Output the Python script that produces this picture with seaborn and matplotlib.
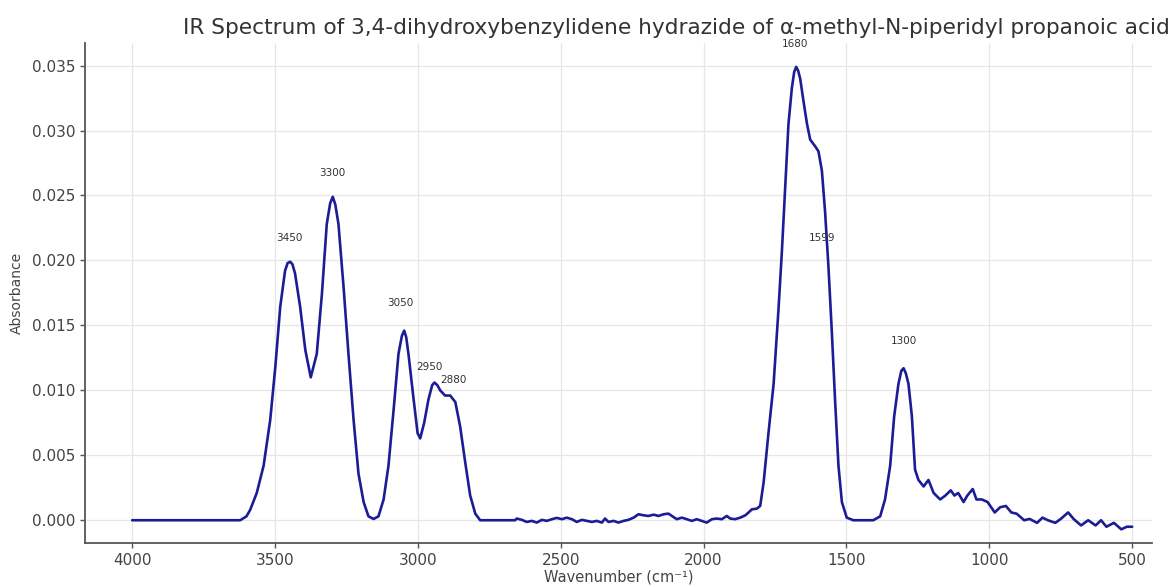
import matplotlib
matplotlib.use("Agg")
import matplotlib.pyplot as plt
import seaborn as sns
import pandas as pd

# --- O-H / N-H / C-H stretching region (cm^-1, absorbance) ---
wn_high = [4000, 3800, 3660, 3622, 3600, 3587, 3564, 3540, 3517, 3499, 3482,
           3465, 3456, 3447, 3439, 3430, 3412, 3394, 3375, 3354, 3336, 3319,
           3307, 3298, 3289, 3278, 3260, 3243, 3225, 3208, 3190, 3173, 3155,
           3138, 3120, 3103, 3085, 3068, 3056, 3048, 3041, 3033, 3015, 3001,
           2992, 2978, 2963, 2950, 2942, 2932, 2922, 2905, 2887, 2869, 2852,
           2834, 2817, 2799, 2782, 2700, 2660]
ab_high = [0.0, 0.0, 0.0, 0.0, 0.0003, 0.0008, 0.0021, 0.0042, 0.0077, 0.0118,
           0.0164, 0.0192, 0.0198, 0.0199, 0.0197, 0.0190, 0.0164, 0.0131,
           0.0110, 0.0128, 0.0174, 0.0228, 0.0244, 0.0249, 0.0243, 0.0228,
           0.0179, 0.0128, 0.0077, 0.0036, 0.0014, 0.0003, 0.0001, 0.0003,
           0.0016, 0.0042, 0.0085, 0.0128, 0.0142, 0.0146, 0.0141, 0.0128,
           0.0093, 0.0067, 0.0063, 0.0075, 0.0093, 0.0104, 0.0106, 0.0104,
           0.0100, 0.0096, 0.0096, 0.0091, 0.0072, 0.0044, 0.0019, 0.0005,
           0.0, 0.0, 0.0]

# --- noisy baseline between the stretching and carbonyl regions ---
wn_mid = [2654, 2636, 2619, 2601, 2584, 2566, 2549, 2531, 2514, 2496, 2479,
          2461, 2444, 2426, 2409, 2391, 2374, 2356, 2345, 2333, 2315, 2298,
          2280, 2263, 2245, 2228, 2210, 2193, 2175, 2158, 2140, 2123, 2111,
          2094, 2076, 2059, 2041, 2024, 2006, 1989, 1971, 1954, 1936, 1919,
          1907, 1890, 1872, 1854, 1843, 1831, 1814, 1802]
ab_mid = [0.00013, 0.00003, -0.00013, -0.00005, -0.00018, 0.00003, -0.00005,
          0.00008, 0.00018, 0.00008, 0.00020, 0.00008, -0.00013, 0.00003,
          -0.00005, -0.00013, -0.00005, -0.00018, 0.00013, -0.00013, -0.00005,
          -0.00018, -0.00005, 0.00003, 0.00020, 0.00046, 0.00038, 0.00033,
          0.00043, 0.00033, 0.00046, 0.00051, 0.00033, 0.00008, 0.00020,
          0.00008, -0.00005, 0.00008, -0.00005, -0.00018, 0.00008, 0.00013,
          0.00008, 0.00033, 0.00013, 0.00008, 0.00020, 0.00038, 0.00059,
          0.00084, 0.00089, 0.00110]

# --- carbonyl band and fingerprint region ---
wn_low = [1790, 1773, 1755, 1738, 1726, 1714, 1703, 1691, 1683, 1676, 1669,
          1662, 1650, 1638, 1627, 1610, 1598, 1586, 1575, 1563, 1551, 1540,
          1528, 1516, 1499, 1476, 1440, 1406, 1382, 1365, 1347, 1333, 1318,
          1308, 1300, 1292, 1283, 1271, 1260, 1248, 1230, 1213, 1195, 1172,
          1154, 1135, 1122, 1109, 1090, 1077, 1058, 1045, 1026, 1006, 981,
          962, 942, 923, 904, 878, 859, 833, 814, 795, 769, 750, 724, 705,
          679, 654, 628, 609, 590, 564, 538, 519, 500]
ab_low = [0.0029, 0.0067, 0.0105, 0.0162, 0.0207, 0.0259, 0.0305, 0.0333,
          0.0345, 0.0349, 0.0346, 0.0340, 0.0322, 0.0305, 0.0293, 0.0288,
          0.0284, 0.0269, 0.0238, 0.0195, 0.0144, 0.0093, 0.0042, 0.0014,
          0.0002, 0.0, 0.0, 0.0, 0.0003, 0.0016, 0.0042, 0.0080, 0.0105,
          0.0115, 0.0117, 0.0113, 0.0105, 0.0080, 0.0039, 0.0031, 0.0026,
          0.0031, 0.0021, 0.0016, 0.0019, 0.0023, 0.0019, 0.0021, 0.0014,
          0.0019, 0.0024, 0.0016, 0.0016, 0.0014, 0.0006, 0.0010, 0.0011,
          0.0006, 0.0005, 0.0, 0.0001, -0.0002, 0.0002, 0.0, -0.0002, 0.0001,
          0.0006, 0.0001, -0.0004, 0.0, -0.0004, 0.0, -0.0005, -0.0002,
          -0.0007, -0.0005, -0.0005]

# --- annotated bands ---
peak_text = ["3450", "3300", "3050", "2950", "2880", "1680", "1599", "1300"]
peak_text_wn = [3450, 3300, 3060, 2960, 2876, 1680, 1586, 1300]
peak_text_ab = [0.0217, 0.0267, 0.0167, 0.0118, 0.0108, 0.0367, 0.0217, 0.0138]

spectrum = pd.DataFrame({
    "Wavenumber": wn_high + wn_mid + wn_low,
    "Absorbance": ab_high + ab_mid + ab_low,
})

sns.set_style("ticks", {
    "axes.grid": True,
    "grid.color": "#e6e6e6",
    "axes.edgecolor": "#555555",
    "xtick.color": "#555555",
    "ytick.color": "#555555",
})
plt.rcParams["font.family"] = ["DejaVu Sans"]

fig = plt.figure(figsize=(11.73, 5.87), dpi=100)
ax = fig.add_axes([0.0725, 0.075, 0.9095, 0.852])

sns.lineplot(data=spectrum, x="Wavenumber", y="Absorbance", ax=ax,
             color="#1c1c96", linewidth=1.9, estimator=None, sort=False)

for txt, x, y in zip(peak_text, peak_text_wn, peak_text_ab):
    ax.text(x, y, txt, ha="center", va="center", fontsize=7.5, color="#333333")

ax.set_xlim(4165, 431)
ax.set_ylim(-0.00175, 0.03675)
ax.set_xticks([4000, 3500, 3000, 2500, 2000, 1500, 1000, 500])
ax.set_yticks([0.0, 0.005, 0.010, 0.015, 0.020, 0.025, 0.030, 0.035])
ax.yaxis.set_major_formatter(matplotlib.ticker.FormatStrFormatter("%.3f"))
ax.tick_params(axis="both", labelsize=11, labelcolor="#444444", length=3.5, width=1)
ax.grid(True, color="#e6e6e6", linewidth=0.9)
for side in ("top", "right"):
    ax.spines[side].set_visible(False)
for side in ("left", "bottom"):
    ax.spines[side].set_linewidth(1.3)

ax.set_xlabel("Wavenumber (cm\u207b\u00b9)", fontsize=10.5, color="#444444", labelpad=1)
ax.set_ylabel("Absorbance", fontsize=10, color="#444444", labelpad=6)

fig.text(0.5767, 0.952, "IR Spectrum of 3,4-dihydroxybenzylidene hydrazide of "
         "\u03b1-methyl-N-piperidyl propanoic acid",
         ha="center", va="center", fontsize=15.6, color="#333333")

fig.savefig("out.png", dpi=100)
